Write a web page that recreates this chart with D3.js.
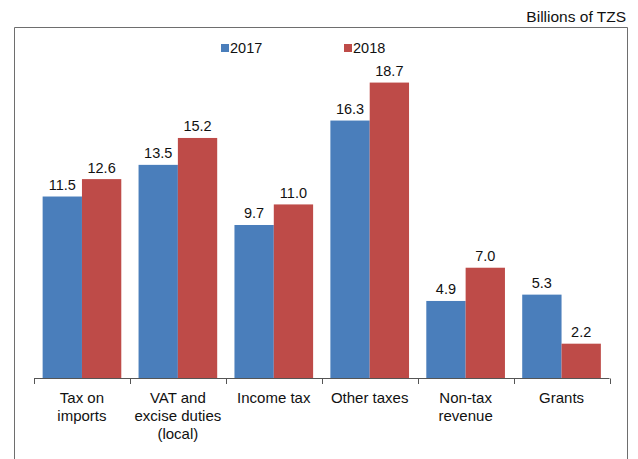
<!DOCTYPE html>
<html>
<head>
<meta charset="utf-8">
<script src="https://cdn.jsdelivr.net/npm/d3@7"></script>
<style>
  html, body { margin: 0; padding: 0; background: #fff; }
  svg { display: block; font-family: "Liberation Sans", Arial, Helvetica, sans-serif; }
</style>
</head>
<body>
<svg id="chart" width="638" height="459"></svg>
<script>
// Revenue by source, billions of TZS
const categories = [
  ["Tax on", "imports"],
  ["VAT and", "excise duties", "(local)"],
  ["Income tax"],
  ["Other taxes"],
  ["Non-tax", "revenue"],
  ["Grants"]
];
const seriesNames = ["2017", "2018"];
const values2017 = [11.5, 13.5, 9.7, 16.3, 4.9, 5.3];
const values2018 = [12.6, 15.2, 11.0, 18.7, 7.0, 2.2];
const colors = ["#4A7EBB", "#BE4B48"];

const svg = d3.select("#chart");

// Frame around the chart area (open at the bottom edge of the page)
svg.append("path")
  .attr("d", "M14.5,470 V27.5 H627.5 V470")
  .attr("fill", "none")
  .attr("stroke", "#6e6e6e")
  .attr("stroke-width", 1);

svg.append("text")
  .attr("x", 626).attr("y", 21.5)
  .attr("text-anchor", "end")
  .attr("font-size", 15.5)
  .attr("fill", "#111")
  .text("Billions of TZS");

const x0 = d3.scaleBand()
  .domain(d3.range(categories.length))
  .range([34, 609.5])
  .paddingInner(0.18)
  .paddingOuter(0.09);

const x1 = d3.scaleBand()
  .domain(seriesNames)
  .range([0, x0.bandwidth()]);

const y = d3.scaleLinear().domain([0, 20]).range([378.5, 62]);

const series = [values2017, values2018];

const groups = svg.append("g").selectAll("g")
  .data(d3.range(categories.length))
  .join("g")
  .attr("transform", i => `translate(${x0(i)},0)`);

groups.selectAll("rect")
  .data(i => seriesNames.map((s, k) => ({ s, k, v: series[k][i] })))
  .join("rect")
  .attr("x", d => x1(d.s))
  .attr("width", x1.bandwidth())
  .attr("y", d => y(d.v))
  .attr("height", d => y(0) - y(d.v))
  .attr("fill", d => colors[d.k]);

groups.selectAll("text.val")
  .data(i => seriesNames.map((s, k) => ({ s, k, v: series[k][i] })))
  .join("text")
  .attr("class", "val")
  .attr("x", d => x1(d.s) + x1.bandwidth() / 2)
  .attr("y", d => y(d.v) - 6.5)
  .attr("text-anchor", "middle")
  .attr("font-size", 14.5)
  .attr("fill", "#111")
  .text(d => d.v.toFixed(1));

// Category axis: line with boundary ticks between groups
const step = (609.5 - 34) / categories.length;
const axisG = svg.append("g");
axisG.append("line")
  .attr("x1", 34).attr("x2", 609.5)
  .attr("y1", 378.5).attr("y2", 378.5)
  .attr("stroke", "#555").attr("stroke-width", 1);
axisG.selectAll("line.tick")
  .data(d3.range(categories.length + 1))
  .join("line")
  .attr("class", "tick")
  .attr("x1", i => Math.round(34 + i * step) + 0.5)
  .attr("x2", i => Math.round(34 + i * step) + 0.5)
  .attr("y1", 378.5).attr("y2", 384)
  .attr("stroke", "#555").attr("stroke-width", 1);

axisG.selectAll("text.cat")
  .data(categories)
  .join("text")
  .attr("class", "cat")
  .attr("text-anchor", "middle")
  .attr("font-size", 15)
  .attr("fill", "#111")
  .attr("x", (d, i) => 34 + (i + 0.5) * step)
  .attr("y", 402.5)
  .selectAll("tspan")
  .data(d => d)
  .join("tspan")
  .attr("x", function () { return this.parentNode.getAttribute("x"); })
  .attr("dy", (d, j) => j === 0 ? 0 : 18)
  .text(d => d);

// Legend
const legendX = [221, 344];
const legend = svg.append("g").selectAll("g")
  .data(seriesNames)
  .join("g")
  .attr("transform", (d, i) => `translate(${legendX[i]},0)`);
legend.append("rect")
  .attr("x", 0).attr("y", 44)
  .attr("width", 8).attr("height", 8)
  .attr("fill", (d, i) => colors[i]);
legend.append("text")
  .attr("x", 9).attr("y", 52.5)
  .attr("font-size", 14.5)
  .attr("fill", "#111")
  .text(d => d);
</script>
</body>
</html>
